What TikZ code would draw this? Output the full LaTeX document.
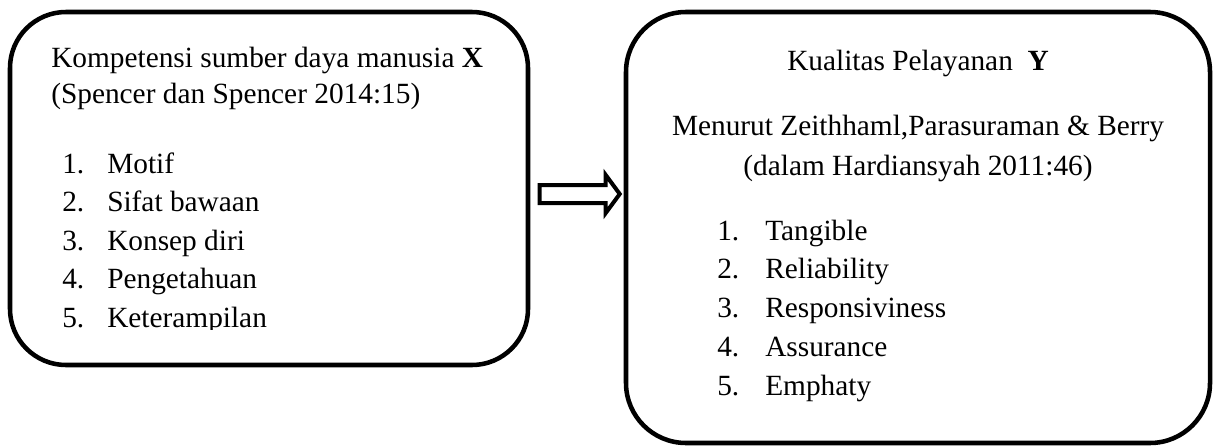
\documentclass[tikz,border=0pt]{standalone}
\usepackage{fontspec}
\setmainfont{Liberation Serif}
\usetikzlibrary{calc}
\tikzset{
  varbox/.style={draw, line width=3.4pt, rounded corners=42pt, inner sep=0pt},
  txt/.style={anchor=base west, inner sep=0pt, font=\fontsize{22}{26}\selectfont},
  ctxt/.style={anchor=base, inner sep=0pt, font=\fontsize{22}{26}\selectfont},
  blockarrow/.style={draw, line width=3pt, line join=miter, fill=white}
}
\begin{document}
\begin{tikzpicture}[x=0.75pt,y=-0.75pt]
	\useasboundingbox (0,0) rectangle (1216,446);
	% the two boxes
	\node[varbox, minimum width=388.5pt, minimum height=264.75pt] (boxX) at (269,188.5) {};
	\node[varbox, rounded corners=45pt, minimum width=438pt, minimum height=323.25pt] (boxY) at (918,227.5) {};
	% box X
	\node[txt] (titleX) at (51,67) {Kompetensi sumber daya manusia \textbf{X}};
	\node[txt] (srcX) at (51,103) {(Spencer dan Spencer 2014:15)};
	\begin{scope}
		\clip (0,0) rectangle (1216,329);
		\foreach \t [count=\i] in {Motif, Sifat bawaan, Konsep diri, Pengetahuan, Keterampilan}{
			\node[txt] (numX\i) at (62,134.5+38.5*\i) {\i.};
			\node[txt] (itemX\i) at (107,134.5+38.5*\i) {\t};
		}
	\end{scope}
	% box Y
	\node[ctxt] (titleY) at (918,70) {Kualitas Pelayanan\ \ \textbf{Y}};
	\node[ctxt] (srcY1) at (918,135) {Menurut Zeithhaml,Parasuraman \& Berry};
	\node[ctxt] (srcY2) at (918,175) {(dalam Hardiansyah 2011:46)};
	\foreach \t [count=\i] in {Tangible, Reliability, Responsiviness, Assurance, Emphaty}{
		\node[txt] (numY\i) at (717,201.25+38.75*\i) {\i.};
		\node[txt] (itemY\i) at (765,201.25+38.75*\i) {\t};
	}
	% block arrow X -> Y
	\coordinate (tip) at ($(boxY.west)+(-4,-33.5)$);
	\draw[blockarrow] (tip) -- ++(-14,19) -- ++(0,-10) -- ++(-66,0) -- ++(0,-18) -- ++(66,0) -- ++(0,-10) -- cycle;
\end{tikzpicture}
\end{document}
